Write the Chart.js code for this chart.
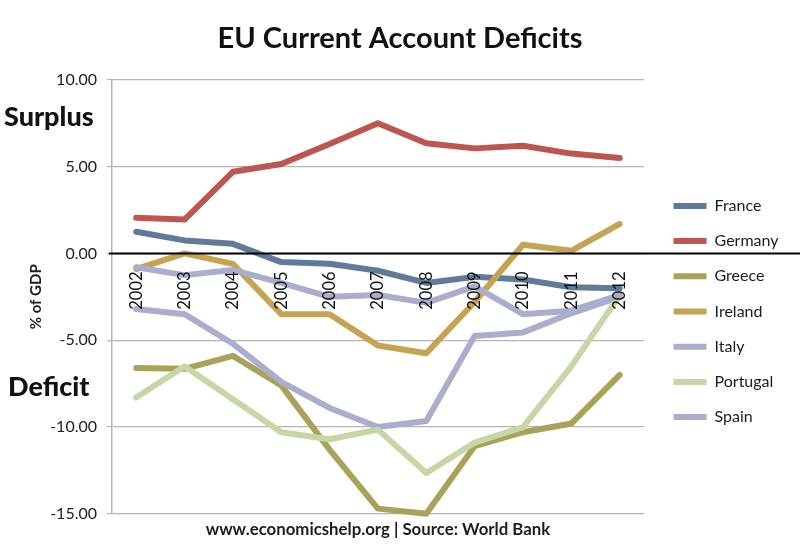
<!DOCTYPE html>
<html>
<head>
<meta charset="utf-8">
<title>EU Current Account Deficits</title>
<script src="https://cdn.jsdelivr.net/npm/chart.js@4"></script>
<style>
    html, body { margin: 0; padding: 0; background: #fff; }
    canvas { display: block; }
</style>
</head>
<body>
<canvas id="deficitChart" width="800" height="559"></canvas>
<script>
// Values, % of GDP
const years = ['2002', '2003', '2004', '2005', '2006', '2007', '2008', '2009', '2010', '2011', '2012'];
const france = [1.25, 0.75, 0.55, -0.5, -0.6, -1.0, -1.7, -1.35, -1.5, -1.95, -2.0];
const germany = [2.05, 1.95, 4.7, 5.15, 6.3, 7.5, 6.35, 6.05, 6.2, 5.75, 5.5];
const greece = [-6.6, -6.65, -5.9, -7.6, -11.3, -14.7, -15.0, -11.1, -10.3, -9.8, -7.0];
const ireland = [-0.9, 0.0, -0.6, -3.5, -3.5, -5.3, -5.75, -2.8, 0.5, 0.15, 1.7];
const italy = [-3.2, -3.5, -5.2, -7.4, -8.9, -10.0, -9.65, -4.75, -4.55, -3.45, -2.5];
const portugal = [-8.3, -6.5, -8.4, -10.3, -10.7, -10.15, -12.65, -10.9, -10.0, -6.5, -2.4];
const spain = [-0.8, -1.25, -0.95, -1.7, -2.5, -2.4, -2.85, -1.9, -3.5, -3.3, -2.4];

const textColor = '#1c1c22';
const gridColor = '#b4b4b4';

Chart.defaults.font.family = 'Lato, "Noto Sans", sans-serif';
Chart.defaults.color = textColor;

function makeSeries(label, data, color, order) {
    return {
        label: label,
        data: data,
        borderColor: color,
        backgroundColor: color,
        borderWidth: 6,
        borderCapStyle: 'round',
        borderJoinStyle: 'round',
        pointRadius: 0,
        tension: 0,
        clip: false,
        pointStyle: 'line',
        order: order
    };
}

// Zero line runs past the plot to the page edge, Surplus / Deficit notes on the left
const annotations = {
    id: 'annotations',
    afterDatasetsDraw(chart) {
        const ctx = chart.ctx;
        const zero = chart.scales.y.getPixelForValue(0);
        ctx.save();
        ctx.strokeStyle = '#000';
        ctx.lineWidth = 2;
        ctx.beginPath();
        ctx.moveTo(109, zero);
        ctx.lineTo(800, zero);
        ctx.stroke();
        ctx.fillStyle = '#111';
        ctx.font = '900 27px Lato, "Noto Sans", sans-serif';
        ctx.textBaseline = 'middle';
        ctx.fillText('Surplus', 4, chart.scales.y.getPixelForValue(7.83));
        ctx.fillText('Deficit', 8, chart.scales.y.getPixelForValue(-7.7));
        ctx.restore();
    },
    // legend sits lower and further right than the layout puts it
    afterLayout(chart) {
        chart.legend.top += 31;
        chart.legend.bottom += 31;
        chart.legend.left += 10.5;
        chart.legend.right += 10.5;
    }
};

new Chart(document.getElementById('deficitChart'), {
    type: 'line',
    plugins: [annotations],
    data: {
        labels: years,
        datasets: [
            makeSeries('France', france, '#5f7b98', 7),
            makeSeries('Germany', germany, '#bd5650', 6),
            makeSeries('Greece', greece, '#a9a35a', 5),
            makeSeries('Ireland', ireland, '#c5a352', 4),
            makeSeries('Italy', italy, '#abadcd', 3),
            makeSeries('Portugal', portugal, '#c7d6a5', 2),
            makeSeries('Spain', spain, '#abadcd', 1)
        ]
    },
    options: {
        responsive: false,
        animation: false,
        layout: { padding: { left: 22, right: 22, top: 21, bottom: 19 } },
        plugins: {
            title: {
                display: true,
                text: 'EU Current Account Deficits',
                font: { size: 29, weight: 'bold' },
                color: '#111',
                padding: { top: 0, bottom: 24 }
            },
            subtitle: {
                display: true,
                position: 'bottom',
                fullSize: false,
                text: 'www.economicshelp.org | Source: World Bank',
                font: { size: 16.8, weight: 'bold' },
                color: textColor,
                padding: { top: 6, bottom: 0 }
            },
            legend: {
                position: 'right',
                labels: {
                    usePointStyle: true,
                    pointStyleWidth: 33,
                    boxHeight: 5,
                    padding: 19.2,
                    font: { size: 16 },
                    color: textColor,
                    sort: (a, b) => a.datasetIndex - b.datasetIndex
                }
            },
            tooltip: { enabled: false }
        },
        scales: {
            x: {
                offset: true,
                position: { y: 0 },
                grid: { display: false },
                border: { display: false },
                ticks: {
                    z: 1,
                    maxRotation: 90,
                    minRotation: 90,
                    padding: 10,
                    font: { size: 16.5 },
                    color: '#111'
                }
            },
            y: {
                min: -15,
                max: 10,
                afterFit(scale) { scale.width = 90; },
                title: {
                    display: true,
                    text: '% of GDP',
                    font: { size: 15, weight: 'bold' },
                    color: textColor,
                    padding: { top: 5, bottom: 0 }
                },
                grid: { color: gridColor, lineWidth: 1.2, tickLength: 5 },
                border: { color: gridColor, width: 1.5 },
                ticks: {
                    stepSize: 5,
                    padding: 10,
                    font: { size: 16 },
                    color: textColor,
                    callback: (value) => value.toFixed(2)
                }
            }
        }
    }
});
</script>
</body>
</html>
